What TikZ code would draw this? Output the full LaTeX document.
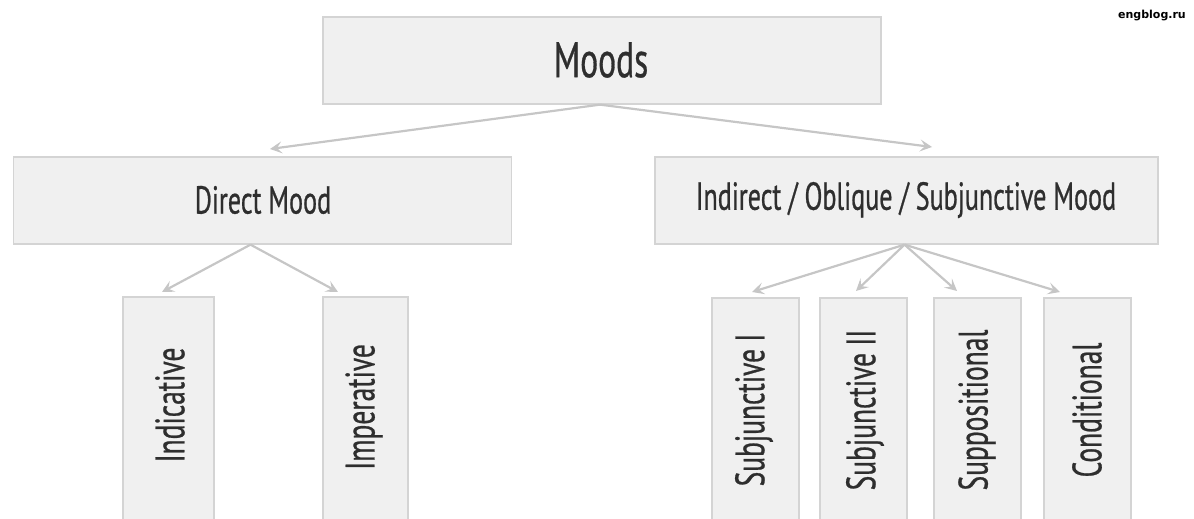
\documentclass[tikz,border=0pt]{standalone}
\usepackage{fontspec}
\setmainfont[FakeStretch=0.67,FakeBold=0.6]{PT Sans}
\newfontfamily\markfont{DejaVu Sans}
\usetikzlibrary{arrows.meta}
\definecolor{boxfill}{HTML}{F0F0F0}
\definecolor{boxline}{HTML}{D4D4D4}
\definecolor{arrowc}{HTML}{C6C6C6}
\definecolor{textc}{HTML}{2E2E2E}
\begin{document}
\begin{tikzpicture}[x=1pt,y=-1pt,
  box/.style={draw=boxline, fill=boxfill, line width=1.3pt, rectangle, inner sep=0pt},
  lbl/.style={text=textc, inner sep=0pt, font=\fontsize{39}{40}\selectfont},
  vlbl/.style={lbl, rotate=90, font=\fontsize{41}{42}\selectfont},
  conn/.style={draw=arrowc, line width=2.2pt, -{Stealth[length=12pt,width=12pt,inset=5pt]}}]
\useasboundingbox (0,0) rectangle (1194,519);
\begin{scope}
\clip (0,0) rectangle (1194,519);
% top
\node[box, minimum width=558pt, minimum height=87pt] (moods) at (602,60.5) {};
\node[lbl, font=\fontsize{50}{52}\selectfont] (moodst) at (601,60) {Moods};
% second level
\node[box, minimum width=498pt, minimum height=87pt] (direct) at (262.5,200.5) {};
\node[lbl] (directt) at (263,200) {Direct Mood};
\node[box, minimum width=503pt, minimum height=87pt] (indirect) at (906.5,200.5) {};
\node[lbl] (indirectt) at (906,200) {Indirect / Oblique / Subjunctive Mood};
% leaves
\node[box, minimum width=91pt, minimum height=240pt] (indic) at (168.5,417) {};
\node[vlbl] (indict) at (170,405) {Indicative};
\node[box, minimum width=85pt, minimum height=240pt] (imper) at (365.5,417) {};
\node[vlbl] (impert) at (364,407) {Imperative};
\node[box, minimum width=87pt, minimum height=240pt] (subj1) at (755.5,418) {};
\node[vlbl] (subj1t) at (754,410) {Subjunctive I};
\node[box, minimum width=87pt, minimum height=240pt] (subj2) at (863.5,418) {};
\node[vlbl] (subj2t) at (865,410) {Subjunctive II};
\node[box, minimum width=87pt, minimum height=240pt] (supp) at (977.5,418) {};
\node[vlbl] (suppt) at (977,410) {Suppositional};
\node[box, minimum width=87pt, minimum height=240pt] (cond) at (1087.5,418) {};
\node[vlbl] (condt) at (1087,410) {Conditional};
\end{scope}
\node[text=black, inner sep=0pt, anchor=east, font=\markfont\bfseries\fontsize{11}{12}\selectfont] (mark) at (1186,16) {engblog.ru};
% arrow tips
\coordinate (t1) at (270,149);
\coordinate (t2) at (932,147);
\coordinate (t3) at (162,292);
\coordinate (t4) at (338,292);
\coordinate (t5) at (752,292);
\coordinate (t6) at (856,291);
\coordinate (t7) at (957,291);
\coordinate (t8) at (1060,292);
\draw[conn] (moods.south) ++(-2,0) -- (t1);
\draw[conn] (moods.south) ++(-2,0) -- (t2);
\draw[conn] (direct.south) ++(-12,0) -- (t3);
\draw[conn] (direct.south) ++(-12,0) -- (t4);
\draw[conn] (indirect.south) ++(-2,0) -- (t5);
\draw[conn] (indirect.south) ++(-2,0) -- (t6);
\draw[conn] (indirect.south) ++(-2,0) -- (t7);
\draw[conn] (indirect.south) ++(-2,0) -- (t8);
\end{tikzpicture}
\end{document}
